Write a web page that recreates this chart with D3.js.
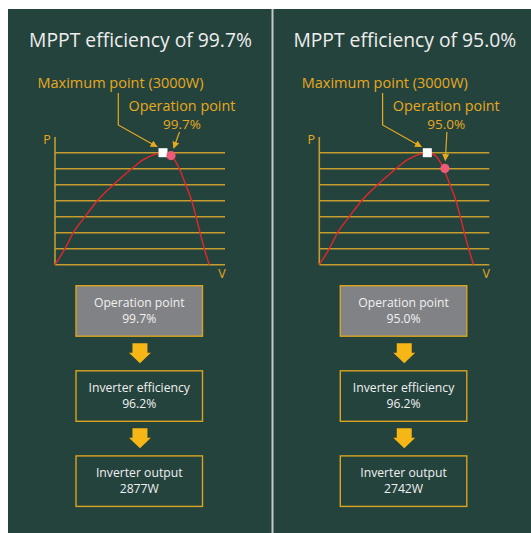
<!DOCTYPE html>
<html lang="en">
<head>
  <meta charset="utf-8" />
  <title>MPPT efficiency</title>
  <script src="https://cdn.jsdelivr.net/npm/d3@7"></script>
  <style>
    body { margin: 0; background: #ffffff; }
    svg text { font-family: "Open Sans", "Noto Sans", sans-serif; }
  </style>
</head>
<body>
<div id="chart"></div>
<script>
  // ---- data ----
  // schematic P-V curve: v in px-like units along the axis, p in grid steps (0..7)
  const curveV = [0, 10, 18.3, 30, 42.3, 58.3, 76.7, 88, 99, 108, 116, 124.3, 130.7, 136.7, 141, 145, 149.3, 154.3];
  const curveP = [0, 1, 2, 3, 4, 5, 6, 6.55, 6.88, 7, 6.82, 6.0, 5, 4, 3, 2, 1, 0];
  const gridLevels = [0, 1, 2, 3, 4, 5, 6, 7];
  const maxPoint = { v: 108, p: 7 };

  const mpptEff = ["99.7%", "95.0%"];
  const opV = [116, 125.6];
  const opP = [6.82, 6.02];
  const inverterEff = ["96.2%", "96.2%"];
  const inverterOut = ["2877W", "2742W"];
  const maxLabel = "Maximum point (3000W)";

  const W = 531, H = 533;
  const bg = "#25433d";
  const gold = "#e6a920";
  const gridGold = "#c49d2e";

  // scale a text's font size so its width matches the reference width
  function fitWidth(sel, target) {
    const n = sel.node();
    const fs = +sel.attr("font-size");
    const w = n.getComputedTextLength();
    if (w > 0) sel.attr("font-size", (fs * target / w).toFixed(2));
    return sel;
  }

  const svg = d3.select("#chart").append("svg")
      .attr("width", W)
      .attr("height", H);

  svg.append("rect")
      .attr("x", 8).attr("y", 9)
      .attr("width", W - 8).attr("height", H - 9)
      .attr("fill", bg);

  svg.append("line")
      .attr("x1", 272.5).attr("x2", 272.5)
      .attr("y1", 9).attr("y2", H)
      .attr("stroke", "#c8c8c8")
      .attr("stroke-width", 2);

  const defs = svg.append("defs");
  defs.append("marker")
      .attr("id", "head")
      .attr("viewBox", "0 0 10 10")
      .attr("refX", 9).attr("refY", 5)
      .attr("markerWidth", 7).attr("markerHeight", 7)
      .attr("markerUnits", "userSpaceOnUse")
      .attr("orient", "auto")
    .append("path")
      .attr("d", "M0,0 L10,5 L0,10 Z")
      .attr("fill", gold);

  const panelX = [55, 319.3];

  panelX.forEach((x0, i) => {
    const g = svg.append("g");

    const x = d3.scaleLinear().domain([0, 170]).range([x0, x0 + 170]);
    const y = d3.scaleLinear().domain([0, 7]).range([264.7, 152.7]);

    // title
    fitWidth(g.append("text")
        .attr("x", x0 + 85.5).attr("y", 46.5)
        .attr("text-anchor", "middle")
        .attr("font-size", 19.5)
        .attr("fill", "#eeeeee")
        .text("MPPT efficiency of " + mpptEff[i]), 223);

    // grid lines
    g.selectAll("line.grid")
      .data(gridLevels)
      .enter().append("line")
        .attr("class", "grid")
        .attr("x1", x(0)).attr("x2", x(170))
        .attr("y1", d => y(d)).attr("y2", d => y(d))
        .attr("stroke", gridGold)
        .attr("stroke-width", 1.6);

    // P axis
    g.append("line")
        .attr("x1", x(0)).attr("x2", x(0))
        .attr("y1", 137).attr("y2", y(0))
        .attr("stroke", gridGold)
        .attr("stroke-width", 1.6);

    g.append("text")
        .attr("x", x0 - 8).attr("y", 144)
        .attr("text-anchor", "middle")
        .attr("font-size", 12.5)
        .attr("fill", gold)
        .text("P");
    g.append("text")
        .attr("x", x0 + 167).attr("y", 278)
        .attr("text-anchor", "middle")
        .attr("font-size", 12.5)
        .attr("fill", gold)
        .text("V");

    // curve
    const line = d3.line()
        .x(d => x(d[0]))
        .y(d => y(d[1]))
        .curve(d3.curveMonotoneX);
    g.append("path")
        .attr("d", line(d3.zip(curveV, curveP)))
        .attr("fill", "none")
        .attr("stroke", "#e3262b")
        .attr("stroke-width", 1.4);

    // annotation labels
    fitWidth(g.append("text")
        .attr("x", x0 + 65.5).attr("y", 88)
        .attr("text-anchor", "middle")
        .attr("font-size", 14)
        .attr("fill", gold)
        .text(maxLabel), 166);
    fitWidth(g.append("text")
        .attr("x", x0 + 127).attr("y", 110.5)
        .attr("text-anchor", "middle")
        .attr("font-size", 14)
        .attr("fill", gold)
        .text("Operation point"), 107);
    g.append("text")
        .attr("x", x0 + 127).attr("y", 128.5)
        .attr("text-anchor", "middle")
        .attr("font-size", 13.5)
        .attr("fill", gold)
        .text(mpptEff[i]);

    // leader to maximum point
    const mx = x(maxPoint.v), my = y(maxPoint.p);
    g.append("path")
        .attr("d", `M${x0 + 63.3},93 L${x0 + 63.3},125 L${mx - 6},${my - 6}`)
        .attr("fill", "none")
        .attr("stroke", gold)
        .attr("stroke-width", 1.2)
        .attr("marker-end", "url(#head)");

    // leader to operation point
    const ox = x(opV[i]), oy = y(opP[i]);
    const sx = i === 0 ? x0 + 124.5 : ox + 2, sy = 132;
    const ang = Math.atan2(oy - sy, ox - sx);
    g.append("line")
        .attr("x1", sx).attr("y1", sy)
        .attr("x2", ox - Math.cos(ang) * 8).attr("y2", oy - Math.sin(ang) * 8)
        .attr("stroke", gold)
        .attr("stroke-width", 1.2)
        .attr("marker-end", "url(#head)");

    // markers
    g.append("rect")
        .attr("x", mx - 4.5).attr("y", my - 4.5)
        .attr("width", 9).attr("height", 9)
        .attr("fill", "#ffffff");
    g.append("circle")
        .attr("cx", ox).attr("cy", oy)
        .attr("r", 4.6)
        .attr("fill", "#ee5a78");

    // flow boxes
    const boxes = [
      { t: "Operation point", v: mpptEff[i], fill: "#818285" },
      { t: "Inverter efficiency", v: inverterEff[i], fill: "none" },
      { t: "Inverter output", v: inverterOut[i], fill: "none" }
    ];
    const bx = x0 + 21, bw = 126.5, bh = 50.5;
    const by = d3.scaleLinear().domain([0, 1]).range([285.7, 370.8]);

    boxes.forEach((b, k) => {
      const top = by(k);
      g.append("rect")
          .attr("x", bx).attr("y", top)
          .attr("width", bw).attr("height", bh)
          .attr("fill", b.fill)
          .attr("stroke", "#d9a41f")
          .attr("stroke-width", 1.4);
      const t = g.append("text")
          .attr("text-anchor", "middle")
          .attr("font-size", 12.2)
          .attr("fill", "#f0f0f0");
      t.append("tspan")
          .attr("x", bx + bw / 2).attr("y", top + 21)
          .text(b.t);
      t.append("tspan")
          .attr("x", bx + bw / 2).attr("dy", 16)
          .text(b.v);

      if (k < boxes.length - 1) {
        const cx = bx + bw / 2 + 0.7, ay = top + bh + 7;
        g.append("path")
            .attr("d", `M${cx - 7.5},${ay} L${cx + 7.5},${ay} L${cx + 7.5},${ay + 9.5}
                        L${cx + 11},${ay + 9.5} L${cx},${ay + 20} L${cx - 11},${ay + 9.5}
                        L${cx - 7.5},${ay + 9.5} Z`)
            .attr("fill", "#f6b616");
      }
    });
  });
</script>
</body>
</html>
